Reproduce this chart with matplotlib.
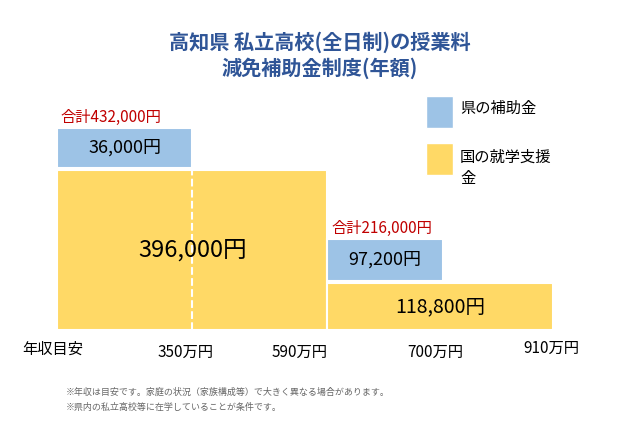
import matplotlib.pyplot as plt
from matplotlib.patches import Rectangle

plt.rcParams['font.family'] = ['Noto Sans CJK JP', 'DejaVu Sans']

# bar edges (category slots) and heights as drawn in the chart (not to scale)
edges_yellow = [(0, 2.18), (2.18, 4.0)]
edges_blue = [(0, 1.09), (2.18, 3.11)]
dash_x = 1.09
h_yellow = [160, 47]
h_blue = [40, 42]
lbl_yellow = ['396,000円', '118,800円']
lbl_blue = ['36,000円', '97,200円']
totals = ['合計432,000円', '合計216,000円']
income_ticks = ['350万円', '590万円', '700万円', '910万円']
tick_px = [186, 300, 435, 551]

W, H = 640, 444
fig = plt.figure(figsize=(6.4, 4.44), dpi=100)
ax = fig.add_axes([57 / W, (H - 330) / H, (553 - 57) / W, 230 / H])
ax.set_xlim(0, 4.0)
ax.set_ylim(0, 230)
ax.axis('off')

yel, blu = '#FFD966', '#9DC3E6'
for (x0, x1), h, t in zip(edges_yellow, h_yellow, lbl_yellow):
    ax.add_patch(Rectangle((x0, 0), x1 - x0, h, fc=yel, ec='white', lw=1.5))
    fs = 17 if h > 100 else 14
    ax.text((x0 + x1) / 2, h / 2, t, ha='center', va='center', fontsize=fs)
ax.plot([dash_x, dash_x], [0, h_yellow[0]], color='white', ls='--', lw=1.5)

for (x0, x1), hy, h, t, tot in zip(edges_blue, h_yellow, h_blue, lbl_blue, totals):
    ax.add_patch(Rectangle((x0, hy + 2), x1 - x0, h, fc=blu, ec='white', lw=1.5))
    ax.text((x0 + x1) / 2, hy + 2 + h / 2, t, ha='center', va='center', fontsize=13)
    ax.text(x0 + 0.03, hy + h + 4, tot, ha='left', va='bottom', fontsize=11, color='#C00000')

def ftext(px, py, s, **kw):
    fig.text(px / W, 1 - py / H, s, **kw)

ftext(320, 42, '高知県 私立高校(全日制)の授業料', ha='center', va='center',
      fontsize=14.5, fontweight='bold', color='#2F5597')
ftext(320, 68, '減免補助金制度(年額)', ha='center', va='center',
      fontsize=14.5, fontweight='bold', color='#2F5597')

ftext(22, 349, '年収目安', ha='left', va='center', fontsize=11)
for px, s in zip(tick_px, income_ticks):
    ftext(px, 352 if px < 500 else 348, s, ha='center', va='center', fontsize=11)

ftext(66, 392, '※年収は目安です。家庭の状況（家族構成等）で大きく異なる場合があります。',
      ha='left', va='center', fontsize=6.5, color='#666666')
ftext(66, 407, '※県内の私立高校等に在学していることが条件です。',
      ha='left', va='center', fontsize=6.5, color='#666666')

# legend
lax = fig.add_axes([0, 0, 1, 1], zorder=-1)
lax.set_xlim(0, W); lax.set_ylim(H, 0); lax.axis('off')
lax.add_patch(Rectangle((426, 96), 27, 32, fc=blu, ec='white'))
lax.add_patch(Rectangle((426, 143), 27, 32, fc=yel, ec='white'))
ftext(460, 108, '県の補助金', ha='left', va='center', fontsize=11)
ftext(460, 157, '国の就学支援', ha='left', va='center', fontsize=11)
ftext(460, 178, '金', ha='left', va='center', fontsize=11)

fig.savefig('out.png', dpi=100)
